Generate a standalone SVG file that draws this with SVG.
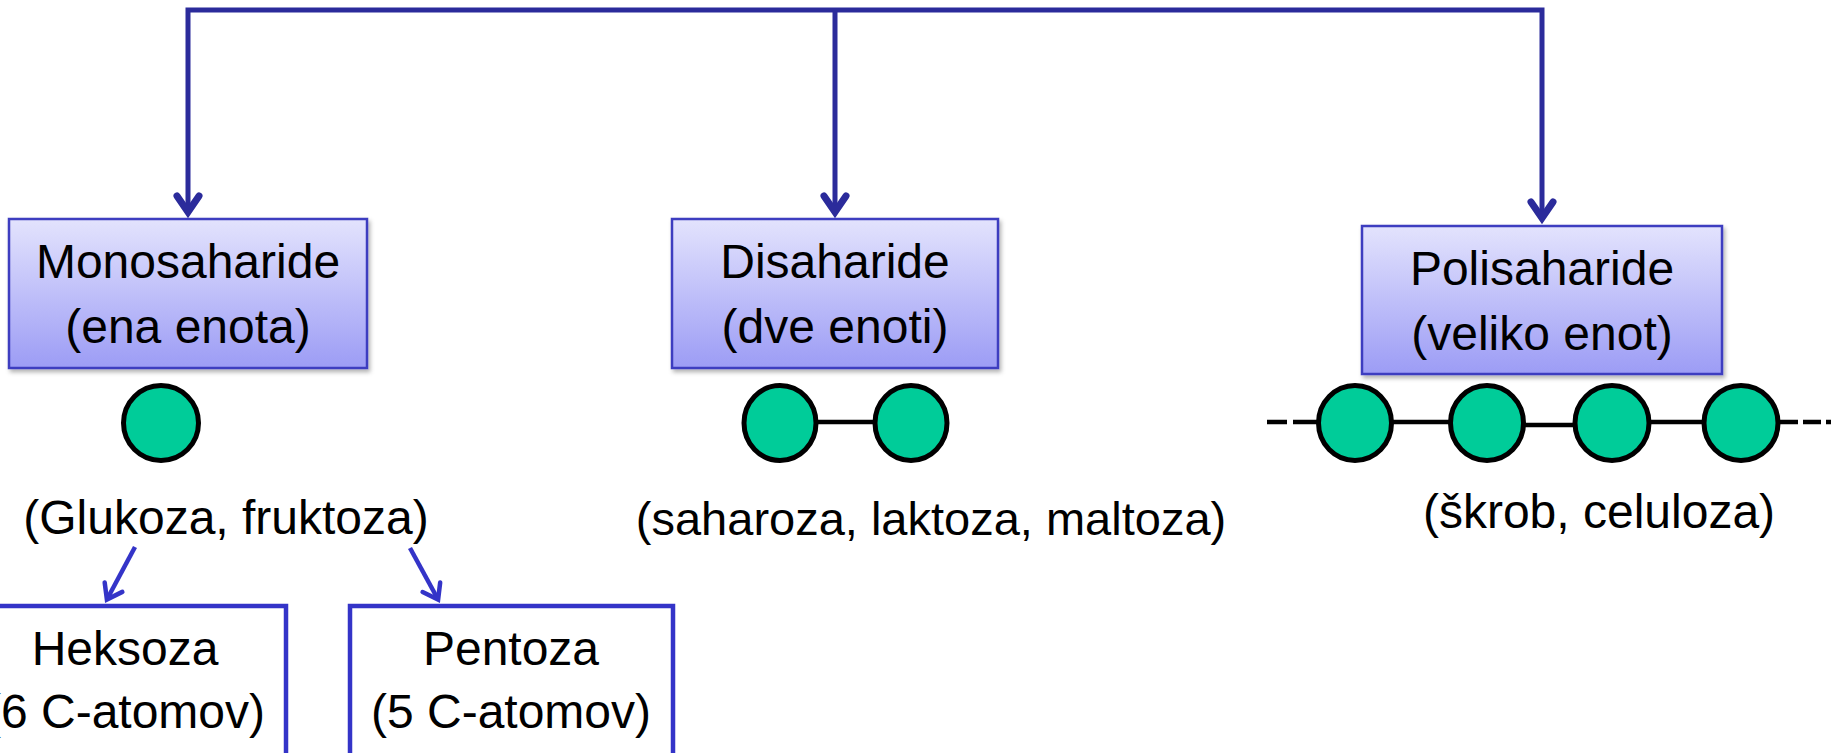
<svg xmlns="http://www.w3.org/2000/svg" width="1831" height="753" viewBox="0 0 1831 753">
<style>
.lbl{font-family:"Liberation Sans",Arial,sans-serif;font-size:48px;fill:#000;text-anchor:middle}
.box{fill:url(#g);stroke:#3c3cc0;stroke-width:2.5;filter:url(#sh)}
.wbox{fill:#fff;stroke:#3434c8;stroke-width:4.5}
.unit{fill:#00cc99;stroke:#000;stroke-width:5}
.bond{stroke:#000;stroke-width:4.5;fill:none}
.main{stroke:#2b2b9b;stroke-width:5;fill:none;marker-end:url(#am)}
.sub{stroke:#3434c8;stroke-width:4.5;fill:none;marker-end:url(#as)}
</style>
<defs>
<linearGradient id="g" x1="0" y1="0" x2="0" y2="1">
<stop offset="0" stop-color="#e3e3fd"/>
<stop offset="1" stop-color="#9c9cf5"/>
</linearGradient>
<filter id="sh" x="-5%" y="-5%" width="115%" height="120%">
<feDropShadow dx="2" dy="3" stdDeviation="2" flood-color="#000" flood-opacity="0.3"/>
</filter>
<marker id="am" markerUnits="userSpaceOnUse" markerWidth="30" markerHeight="30" refX="0" refY="0" orient="auto-start-reverse" overflow="visible">
<path d="M-16,-11 L0,0 L-16,11" fill="none" stroke="#2b2b9b" stroke-width="7" stroke-linecap="round" stroke-linejoin="miter"/>
</marker>
<marker id="as" markerUnits="userSpaceOnUse" markerWidth="24" markerHeight="24" refX="0" refY="0" orient="auto" overflow="visible">
<path d="M-14,-10 L0,0 L-14,10" fill="none" stroke="#3434c8" stroke-width="4.5" stroke-linecap="round" stroke-linejoin="miter"/>
</marker>
</defs>

<g id="connectors">
<path class="main" d="M188,212 V10 H1542 V218" style="marker-start:url(#am)"/>
<path class="main" d="M835,10 V212"/>
<path class="sub" d="M135,547 L106.9,599.5"/>
<path class="sub" d="M410,548 L438.1,599.5"/>
</g>

<g id="monosaharide">
<rect class="box" x="9" y="219" width="358" height="149"/>
<text class="lbl" x="188" y="278">Monosaharide</text>
<text class="lbl" x="188" y="343">(ena enota)</text>
<circle class="unit" cx="161" cy="423" r="37.5"/>
<text class="lbl" x="226" y="534">(Glukoza, fruktoza)</text>
</g>

<g id="disaharide">
<rect class="box" x="672" y="219" width="326" height="149"/>
<text class="lbl" x="835" y="278">Disaharide</text>
<text class="lbl" x="835" y="343">(dve enoti)</text>
<line class="bond" x1="815" y1="422" x2="876" y2="422"/>
<ellipse class="unit" cx="780" cy="423" rx="36" ry="37.5"/>
<ellipse class="unit" cx="911" cy="423" rx="36" ry="37.5"/>
<text class="lbl" x="931" y="535" style="font-size:47px">(saharoza, laktoza, maltoza)</text>
</g>

<g id="polisaharide">
<rect class="box" x="1362" y="226" width="360" height="148"/>
<text class="lbl" x="1542" y="285">Polisaharide</text>
<text class="lbl" x="1542" y="350">(veliko enot)</text>
<path class="bond" d="M1267,422 H1287 M1293,422 H1318 M1392,422 H1450 M1524,425 H1575 M1649,422 H1704 M1778,422 H1798 M1803,422 H1821 M1826,422 H1840" stroke-width="5"/>
<ellipse class="unit" cx="1355" cy="423" rx="36.5" ry="37.5"/>
<ellipse class="unit" cx="1487" cy="423" rx="36.5" ry="37.5"/>
<ellipse class="unit" cx="1612" cy="423" rx="37" ry="37.5"/>
<ellipse class="unit" cx="1741" cy="423" rx="37" ry="37.5"/>
<text class="lbl" x="1599" y="528">(škrob, celuloza)</text>
</g>

<g id="heksoza">
<rect class="wbox" x="-37" y="606" width="323" height="200"/>
<text class="lbl" x="125" y="665">Heksoza</text>
<text class="lbl" x="125" y="728">(6 C-atomov)</text>
</g>

<g id="pentoza">
<rect class="wbox" x="350" y="606" width="323" height="200"/>
<text class="lbl" x="511" y="665">Pentoza</text>
<text class="lbl" x="511" y="728">(5 C-atomov)</text>
</g>
</svg>
